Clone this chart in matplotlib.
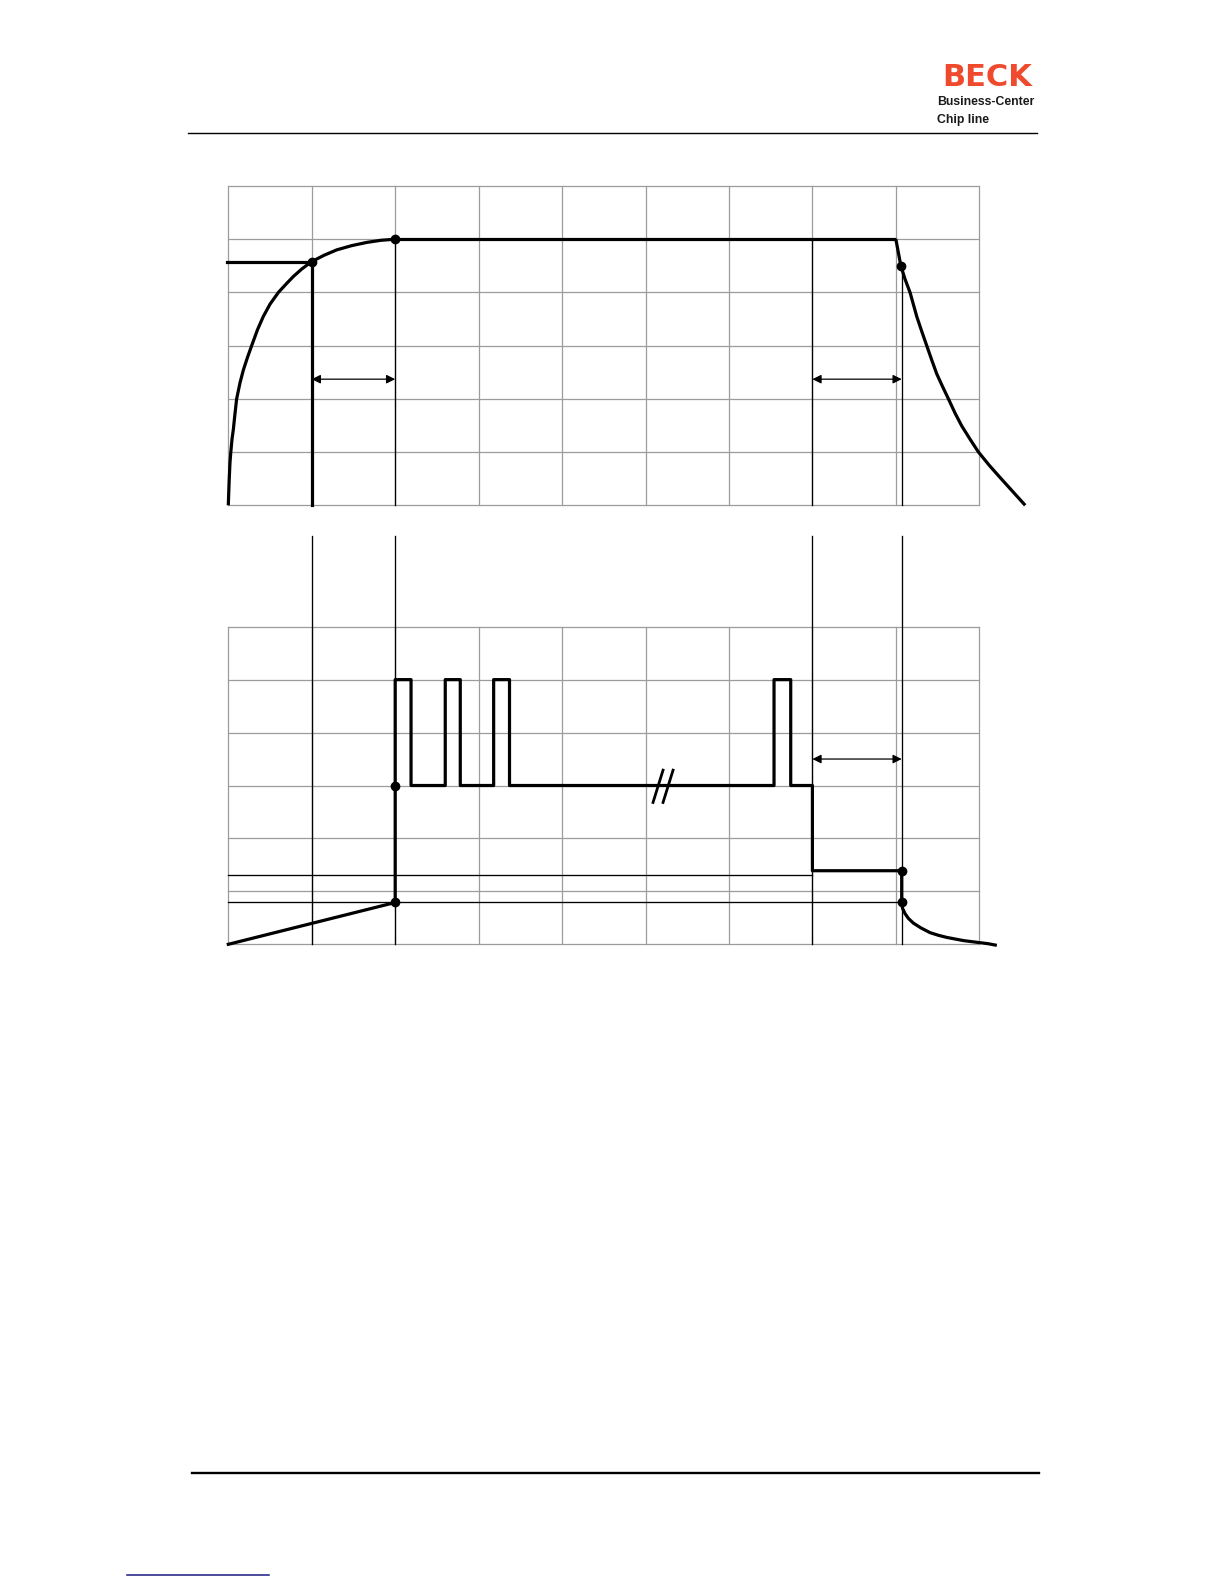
import matplotlib.pyplot as plt

W, H = 1224, 1584

# grid of both panels (columns x rows)
n_cols = 9
n_rows = 6

# ---- top panel (grid units) ----
rise_x = [0.00, 0.01, 0.02, 0.03, 0.045, 0.06, 0.08, 0.10, 0.14, 0.18, 0.23, 0.28, 0.35,
          0.42, 0.50, 0.60, 0.70, 0.78, 0.88, 1.00, 1.15, 1.30, 1.48, 1.66, 1.83, 2.00]
rise_y = [0.00, 0.45, 0.80, 1.00, 1.25, 1.42, 1.72, 2.00, 2.30, 2.54, 2.78, 3.00, 3.30,
          3.55, 3.78, 4.00, 4.17, 4.30, 4.44, 4.58, 4.70, 4.80, 4.88, 4.94, 4.98, 5.00]
plateau_x = [2.00, 8.00]
plateau_y = [5.00, 5.00]
fall_x = [8.00, 8.03, 8.06, 8.11, 8.17, 8.25, 8.31, 8.37, 8.43, 8.49, 8.56, 8.63,
          8.71, 8.79, 8.89, 8.99, 9.12, 9.25, 9.40, 9.55]
fall_y = [5.00, 4.75, 4.50, 4.25, 4.00, 3.55, 3.27, 3.00, 2.73, 2.47, 2.23, 2.00,
          1.73, 1.49, 1.24, 1.00, 0.75, 0.52, 0.26, 0.00]
top_dots_x = [1.00, 2.00, 8.06]
top_dots_y = [4.58, 5.00, 4.50]
level_y = 4.58
top_marks_x = [2.00, 7.00, 8.07]
top_marks_y = [5.00, 5.00, 4.50]
top_arrows = [(1.00, 2.00), (7.00, 8.07)]
top_arrow_y = 2.37

# ---- bottom panel (grid units) ----
sig_x = [0.0, 2.00, 2.00, 2.19, 2.19, 2.60, 2.60, 2.78, 2.78, 3.18, 3.18, 3.37, 3.37,
         6.54, 6.54, 6.74, 6.74, 7.00, 7.00, 8.07, 8.07]
sig_y = [0.0, 0.79, 5.0, 5.0, 3.0, 3.0, 5.0, 5.0, 3.0, 3.0, 5.0, 5.0, 3.0,
         3.0, 5.0, 5.0, 3.0, 3.0, 1.39, 1.39, 0.79]
decay_x = [8.07, 8.08, 8.11, 8.15, 8.21, 8.30, 8.41, 8.51, 8.61, 8.71, 8.81, 8.91, 9.01, 9.11, 9.21]
decay_y = [0.79, 0.68, 0.58, 0.49, 0.40, 0.31, 0.22, 0.17, 0.13, 0.10, 0.07, 0.05, 0.03, 0.01, -0.02]
bot_dots_x = [2.00, 2.00, 8.07, 8.07]
bot_dots_y = [0.79, 3.00, 1.39, 0.79]
ref_levels = [1.30, 0.79]
ref_ends = [7.00, 8.07]
bot_marks_x = [1.00, 2.00, 7.00, 8.07]
bot_marks_top = 7.71
bot_arrow = (7.00, 8.07)
bot_arrow_y = 3.50
break_x = [5.09, 5.21]
break_dx = 0.12
break_y = (2.68, 3.29)

GRID = '#9c9c9c'
THICK = 2.3
THIN = 0.95


def px_axes(fig, left, top, right, bottom):
    return fig.add_axes([left / W, 1 - bottom / H, (right - left) / W, (bottom - top) / H])


def draw_grid(ax):
    for i in range(n_cols + 1):
        ax.plot([i, i], [0, n_rows], color=GRID, lw=0.9, zorder=1, clip_on=False)
    for j in range(n_rows + 1):
        ax.plot([0, n_cols], [j, j], color=GRID, lw=0.9, zorder=1, clip_on=False)
    ax.set_xlim(0, n_cols)
    ax.set_ylim(0, n_rows)
    ax.axis('off')


def arrow(ax, x0, x1, y):
    ax.annotate('', xy=(x1, y), xytext=(x0, y),
                arrowprops=dict(arrowstyle='<|-|>', color='black', lw=0.9,
                                mutation_scale=13, shrinkA=0, shrinkB=0),
                annotation_clip=False, zorder=4)


def curve(ax, xs, ys):
    ax.plot(xs, ys, color='black', lw=THICK, zorder=3, clip_on=False,
            solid_joinstyle='round', solid_capstyle='butt')


fig = plt.figure(figsize=(W / 100, H / 100), dpi=100)

# ---------- top panel ----------
ax1 = px_axes(fig, 228.3, 186.0, 979.3, 505.3)
draw_grid(ax1)
for x, yt in zip(top_marks_x, top_marks_y):
    ax1.plot([x, x], [0, yt], color='black', lw=THIN, zorder=2, clip_on=False)
ax1.plot([-0.02, top_dots_x[0]], [level_y, level_y], color='black', lw=THICK, zorder=3, clip_on=False)
ax1.plot([top_dots_x[0], top_dots_x[0]], [0, level_y], color='black', lw=THICK, zorder=3, clip_on=False)
curve(ax1, rise_x, rise_y)
curve(ax1, plateau_x, plateau_y)
curve(ax1, fall_x, fall_y)
ax1.plot(top_dots_x, top_dots_y, 'o', color='black', ms=6, zorder=5, clip_on=False)
for a, b in top_arrows:
    arrow(ax1, a, b, top_arrow_y)

# ---------- bottom panel ----------
ax2 = px_axes(fig, 228.3, 626.7, 979.3, 944.3)
draw_grid(ax2)
for x in bot_marks_x:
    ax2.plot([x, x], [0, bot_marks_top], color='black', lw=THIN, zorder=2, clip_on=False)
for lvl, end in zip(ref_levels, ref_ends):
    ax2.plot([0, end], [lvl, lvl], color='black', lw=THIN, zorder=2, clip_on=False)
ax2.plot(sig_x, sig_y, color='black', lw=THICK, zorder=3, clip_on=False)
curve(ax2, decay_x, decay_y)
ax2.plot(bot_dots_x, bot_dots_y, 'o', color='black', ms=6, zorder=5, clip_on=False)
arrow(ax2, bot_arrow[0], bot_arrow[1], bot_arrow_y)
for bx in break_x:
    ax2.plot([bx, bx + break_dx], [break_y[0], break_y[1]], color='black', lw=2.0, zorder=4, clip_on=False)

# ---------- page header / footer ----------
page = fig.add_axes([0, 0, 1, 1])
page.set_xlim(0, W)
page.set_ylim(H, 0)
page.axis('off')
page.patch.set_alpha(0)

page.text(987, 77.5, 'BECK', color='#ef4a2e', fontsize=22, fontweight='heavy',
          family='DejaVu Sans', ha='center', va='center')
page.text(937, 102, 'Business-Center', color='#1a1a1a', fontsize=8.8, fontweight='bold',
          family='Liberation Sans', ha='left', va='center')
page.text(937, 120, 'Chip line', color='#1a1a1a', fontsize=8.8, fontweight='bold',
          family='Liberation Sans', ha='left', va='center')
page.plot([188.3, 1037], [133.3, 133.3], color='black', lw=1.0)
page.plot([191.7, 1039.3], [1472.5, 1472.5], color='black', lw=1.7)
page.plot([127.3, 269], [1575, 1575], color='#1a1a80', lw=1.1)

fig.savefig('out.png', dpi=100)
